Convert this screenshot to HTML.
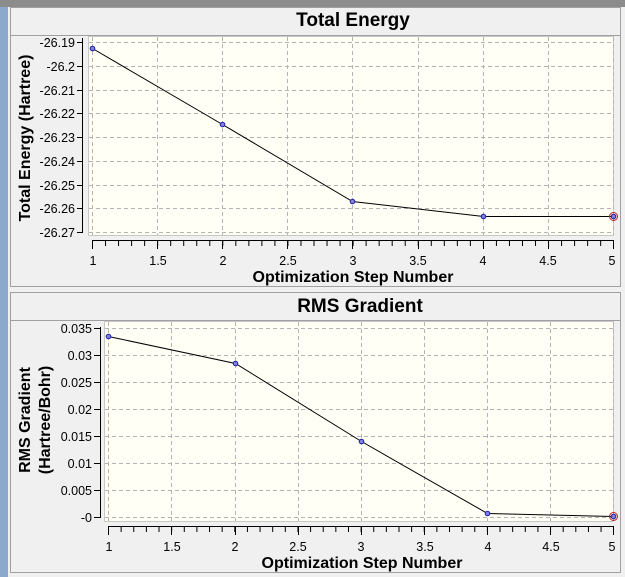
<!DOCTYPE html>
<html><head><style>
body{margin:0;background:#f0f0f0;}
svg{display:block;font-family:"Liberation Sans",Arial,sans-serif;}
</style></head><body>
<svg width="625" height="577" viewBox="0 0 625 577">
<rect width="625" height="577" fill="#f0f0f0"/>
<rect x="0" y="0" width="8" height="577" fill="#8aa9cc"/>
<rect x="0" y="0" width="625" height="7" fill="#8c8c8c"/>
<rect x="10.5" y="7.5" width="610" height="279" fill="#f0f0f0" stroke="#a0a0a0"/>
<line x1="11" y1="35.5" x2="620" y2="35.5" stroke="#a0a0a0"/>
<rect x="10.5" y="292.5" width="610" height="280" fill="#f0f0f0" stroke="#a0a0a0"/>
<line x1="11" y1="320.5" x2="620" y2="320.5" stroke="#a0a0a0"/>
<text x="353" y="26" font-size="19" font-weight="bold" text-anchor="middle">Total Energy</text>
<text x="360" y="312" font-size="19" font-weight="bold" text-anchor="middle">RMS Gradient</text>

<rect x="88.5" y="36.5" width="525" height="199" fill="#fffff6" stroke="#c8c8c8"/>
<g stroke="#b4b4b4" stroke-dasharray="4 3">
<line x1="92.5" y1="37" x2="92.5" y2="235"/><line x1="157.5" y1="37" x2="157.5" y2="235"/>
<line x1="222.5" y1="37" x2="222.5" y2="235"/><line x1="287.5" y1="37" x2="287.5" y2="235"/>
<line x1="352.5" y1="37" x2="352.5" y2="235"/><line x1="418.5" y1="37" x2="418.5" y2="235"/>
<line x1="483.5" y1="37" x2="483.5" y2="235"/><line x1="548.5" y1="37" x2="548.5" y2="235"/>
<line x1="613.5" y1="37" x2="613.5" y2="235"/>
<line x1="89" y1="42.5" x2="613" y2="42.5"/><line x1="89" y1="66.5" x2="613" y2="66.5"/>
<line x1="89" y1="90.5" x2="613" y2="90.5"/><line x1="89" y1="113.5" x2="613" y2="113.5"/>
<line x1="89" y1="137.5" x2="613" y2="137.5"/><line x1="89" y1="161.5" x2="613" y2="161.5"/>
<line x1="89" y1="185.5" x2="613" y2="185.5"/><line x1="89" y1="208.5" x2="613" y2="208.5"/>
<line x1="89" y1="232.5" x2="613" y2="232.5"/>
</g>
<g stroke="#000">
<line x1="82.5" y1="38" x2="82.5" y2="233"/>
<line x1="77" y1="42.5" x2="83" y2="42.5"/><line x1="77" y1="66.5" x2="83" y2="66.5"/>
<line x1="77" y1="90.5" x2="83" y2="90.5"/><line x1="77" y1="113.5" x2="83" y2="113.5"/>
<line x1="77" y1="137.5" x2="83" y2="137.5"/><line x1="77" y1="161.5" x2="83" y2="161.5"/>
<line x1="77" y1="185.5" x2="83" y2="185.5"/><line x1="77" y1="208.5" x2="83" y2="208.5"/>
<line x1="77" y1="232.5" x2="83" y2="232.5"/>
<line x1="92" y1="240.5" x2="614" y2="240.5"/>
<line x1="92" y1="243.5" x2="614" y2="243.5" stroke-width="5" stroke-dasharray="1 12.03"/>
<line x1="92.5" y1="240" x2="92.5" y2="249"/><line x1="157.5" y1="240" x2="157.5" y2="249"/>
<line x1="222.5" y1="240" x2="222.5" y2="249"/><line x1="287.5" y1="240" x2="287.5" y2="249"/>
<line x1="352.5" y1="240" x2="352.5" y2="249"/><line x1="418.5" y1="240" x2="418.5" y2="249"/>
<line x1="483.5" y1="240" x2="483.5" y2="249"/><line x1="548.5" y1="240" x2="548.5" y2="249"/>
<line x1="613.5" y1="240" x2="613.5" y2="249"/>
</g>
<g font-size="12.5" text-anchor="end" fill="#000">
<text x="75" y="47">-26.19</text><text x="75" y="71">-26.2</text><text x="75" y="95">-26.21</text>
<text x="75" y="118">-26.22</text><text x="75" y="142">-26.23</text><text x="75" y="166">-26.24</text>
<text x="75" y="190">-26.25</text><text x="75" y="213">-26.26</text><text x="75" y="237">-26.27</text>
</g>
<g font-size="12.5" text-anchor="middle">
<text x="93" y="265">1</text><text x="158" y="265">1.5</text><text x="223" y="265">2</text>
<text x="288" y="265">2.5</text><text x="353" y="265">3</text><text x="418" y="265">3.5</text>
<text x="483" y="265">4</text><text x="548" y="265">4.5</text><text x="612" y="265">5</text>
</g>
<text x="353" y="282" font-size="16" font-weight="bold" text-anchor="middle">Optimization Step Number</text>
<text transform="translate(30,138) rotate(-90)" font-size="16" font-weight="bold" text-anchor="middle">Total Energy (Hartree)</text>
<polyline points="92.5,48.5 222.5,124.5 352.5,201.5 483.5,216.5 613.5,216.5" fill="none" stroke="#000"/>
<g fill="#8080e0" stroke="#2020a0">
<circle cx="92.5" cy="48.5" r="2.3"/><circle cx="222.5" cy="124.5" r="2.3"/>
<circle cx="352.5" cy="201.5" r="2.3"/><circle cx="483.5" cy="216.5" r="2.3"/>
<circle cx="613.5" cy="216.5" r="2.3"/>
</g>
<circle cx="613.5" cy="216.5" r="4" fill="none" stroke="#c02020"/>

<rect x="104.5" y="321.5" width="509" height="200" fill="#fffff6" stroke="#c8c8c8"/>
<g stroke="#b4b4b4" stroke-dasharray="4 3">
<line x1="108.5" y1="322" x2="108.5" y2="521"/><line x1="171.5" y1="322" x2="171.5" y2="521"/>
<line x1="235.5" y1="322" x2="235.5" y2="521"/><line x1="298.5" y1="322" x2="298.5" y2="521"/>
<line x1="361.5" y1="322" x2="361.5" y2="521"/><line x1="424.5" y1="322" x2="424.5" y2="521"/>
<line x1="487.5" y1="322" x2="487.5" y2="521"/><line x1="550.5" y1="322" x2="550.5" y2="521"/>
<line x1="613.5" y1="322" x2="613.5" y2="521"/>
<line x1="105" y1="328.5" x2="613" y2="328.5"/><line x1="105" y1="355.5" x2="613" y2="355.5"/>
<line x1="105" y1="382.5" x2="613" y2="382.5"/><line x1="105" y1="409.5" x2="613" y2="409.5"/>
<line x1="105" y1="436.5" x2="613" y2="436.5"/><line x1="105" y1="463.5" x2="613" y2="463.5"/>
<line x1="105" y1="490.5" x2="613" y2="490.5"/><line x1="105" y1="517.5" x2="613" y2="517.5"/>
</g>
<g stroke="#000">
<line x1="100.5" y1="327" x2="100.5" y2="518"/>
<line x1="94" y1="328.5" x2="101" y2="328.5"/><line x1="94" y1="355.5" x2="101" y2="355.5"/>
<line x1="94" y1="382.5" x2="101" y2="382.5"/><line x1="94" y1="409.5" x2="101" y2="409.5"/>
<line x1="94" y1="436.5" x2="101" y2="436.5"/><line x1="94" y1="463.5" x2="101" y2="463.5"/>
<line x1="94" y1="490.5" x2="101" y2="490.5"/><line x1="94" y1="517.5" x2="101" y2="517.5"/>
<line x1="108" y1="526.5" x2="614" y2="526.5"/>
<line x1="108" y1="529.5" x2="614" y2="529.5" stroke-width="5" stroke-dasharray="1 11.63"/>
<line x1="108.5" y1="526" x2="108.5" y2="535"/><line x1="171.5" y1="526" x2="171.5" y2="535"/>
<line x1="235.5" y1="526" x2="235.5" y2="535"/><line x1="298.5" y1="526" x2="298.5" y2="535"/>
<line x1="361.5" y1="526" x2="361.5" y2="535"/><line x1="424.5" y1="526" x2="424.5" y2="535"/>
<line x1="487.5" y1="526" x2="487.5" y2="535"/><line x1="550.5" y1="526" x2="550.5" y2="535"/>
<line x1="613.5" y1="526" x2="613.5" y2="535"/>
</g>
<g font-size="12.5" text-anchor="end">
<text x="92" y="333">0.035</text><text x="92" y="360">0.03</text><text x="92" y="387">0.025</text>
<text x="92" y="414">0.02</text><text x="92" y="441">0.015</text><text x="92" y="468">0.01</text>
<text x="92" y="495">0.005</text><text x="92" y="522">-0</text>
</g>
<g font-size="12.5" text-anchor="middle">
<text x="109" y="551">1</text><text x="172" y="551">1.5</text><text x="235" y="551">2</text>
<text x="298" y="551">2.5</text><text x="361" y="551">3</text><text x="425" y="551">3.5</text>
<text x="488" y="551">4</text><text x="551" y="551">4.5</text><text x="612" y="551">5</text>
</g>
<text x="362" y="568" font-size="16" font-weight="bold" text-anchor="middle">Optimization Step Number</text>
<text transform="translate(30,420) rotate(-90)" font-size="16" font-weight="bold" text-anchor="middle">RMS Gradient</text>
<text transform="translate(50,420) rotate(-90)" font-size="16" font-weight="bold" text-anchor="middle">(Hartree/Bohr)</text>
<polyline points="108.5,336.5 235.5,363.5 361.5,441.5 487.5,513.5 613.5,516.5" fill="none" stroke="#000"/>
<g fill="#8080e0" stroke="#2020a0">
<circle cx="108.5" cy="336.5" r="2.3"/><circle cx="235.5" cy="363.5" r="2.3"/>
<circle cx="361.5" cy="441.5" r="2.3"/><circle cx="487.5" cy="513.5" r="2.3"/>
<circle cx="613.5" cy="516.5" r="2.3"/>
</g>
<circle cx="613.5" cy="516.5" r="4" fill="none" stroke="#c02020"/>
</svg>
</body></html>
